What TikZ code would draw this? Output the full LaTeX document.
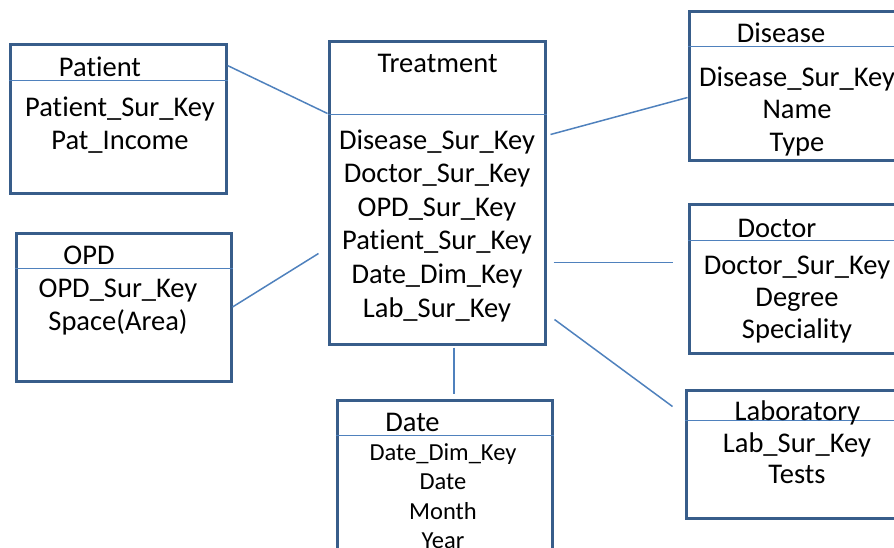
\documentclass[tikz,border=0pt]{standalone}
\usepackage{fontspec}
\setmainfont{Carlito}[Ligatures=NoCommon]
\usetikzlibrary{calc}
\definecolor{boxline}{HTML}{385D8A}
\definecolor{linkline}{HTML}{4F81BD}

\begin{document}
\begin{tikzpicture}[x=1pt,y=-1pt,
  entity/.style={draw=boxline, line width=3pt, fill=white, inner sep=0pt},
  divider/.style={draw=linkline, line width=1.5pt},
  link/.style={draw=linkline, line width=1.5pt},
  label/.style={anchor=base, inner sep=0pt, font=\fontsize{28.5}{32}\selectfont},
  small/.style={anchor=base, inner sep=0pt, font=\fontsize{24.5}{28}\selectfont}]
\useasboundingbox (0,0) rectangle (894,547);
\clip (0,0) rectangle (894,547);

% entity boxes
\node[entity, minimum width=216pt, minimum height=149pt] (patient)   at (118,118.5) {};
\node[entity, minimum width=215pt, minimum height=148pt] (opd)       at (123.5,307) {};
\node[entity, minimum width=216pt, minimum height=303pt] (treatment) at (437,192.5) {};
\node[entity, minimum width=216pt, minimum height=149pt] (disease)   at (797,85.5) {};
\node[entity, minimum width=216pt, minimum height=149pt] (doctor)    at (797,278.5) {};
\node[entity, minimum width=216pt, minimum height=128pt] (lab)       at (794,454) {};
\node[entity, minimum width=215pt, minimum height=200pt] (date)      at (444.5,500) {};

% title separators
\draw[divider] ([yshift=-38pt]patient.north west)   -- ([yshift=-38pt]patient.north east);
\draw[divider] ([yshift=-37pt]opd.north west)       -- ([yshift=-37pt]opd.north east);
\draw[divider] ([yshift=-75pt]treatment.north west) -- ([yshift=-75pt]treatment.north east);
\draw[divider] ([yshift=-37pt]disease.north west)   -- ([yshift=-37pt]disease.north east);
\draw[divider] ([yshift=-38pt]doctor.north west)    -- ([yshift=-38pt]doctor.north east);
\draw[divider] ([yshift=-32pt]lab.north west)       -- ([yshift=-32pt]lab.north east);
\draw[divider] ([yshift=-37pt]date.north west)      -- ([yshift=-37pt]date.north east);

% titles
\node[label] (patient-title)   at (100,76)    {Patient};
\node[label] (opd-title)       at (89,264)    {OPD};
\node[label] (treatment-title) at (437.5,72)  {Treatment};
\node[label] (disease-title)   at (781,42)    {Disease};
\node[label] (doctor-title)    at (777,237)   {Doctor};
\node[label] (lab-title)       at (797.5,420) {Laboratory};
\node[label] (date-title)      at (412.5,431) {Date};

% attributes
\foreach \t [count=\i] in {Patient\_Sur\_Key, Pat\_Income}
  \node[label] (patient-\i) at (120,{116+(\i-1)*33.5}) {\t};
\foreach \t [count=\i] in {OPD\_Sur\_Key, Space(Area)}
  \node[label] (opd-\i) at (118,{297+(\i-1)*33}) {\t};
\foreach \t [count=\i] in {Disease\_Sur\_Key, Doctor\_Sur\_Key, OPD\_Sur\_Key,
                           Patient\_Sur\_Key, Date\_Dim\_Key, Lab\_Sur\_Key}
  \node[label] (treatment-\i) at (437,{149+(\i-1)*33.6}) {\t};
\foreach \t [count=\i] in {Disease\_Sur\_Key, Name, Type}
  \node[label] (disease-\i) at (797,{86+(\i-1)*32.5}) {\t};
\foreach \t [count=\i] in {Doctor\_Sur\_Key, Degree, Speciality}
  \node[label] (doctor-\i) at (797,{274+(\i-1)*32.3}) {\t};
\foreach \t [count=\i] in {Lab\_Sur\_Key, Tests}
  \node[label] (lab-\i) at (797,{452+(\i-1)*31.5}) {\t};
\foreach \t [count=\i] in {Date\_Dim\_Key, Date, Month, Year}
  \node[small] (date-\i) at (443,{460+(\i-1)*29.5}) {\t};

% relationship lines
\draw[link] ([yshift=-23pt]patient.north east) -- ([yshift=-74pt]treatment.north west);
\coordinate (opd-end) at ([xshift=-9pt,yshift=-214pt]treatment.north west);
\draw[link] (opd.east) -- (opd-end);
\draw[link] ([xshift=4pt,yshift=-95pt]treatment.north east) -- ([yshift=-88pt]disease.north west);
\coordinate (doc-start) at ([xshift=7pt,yshift=-223pt]treatment.north east);
\coordinate (doc-end) at ([xshift=-15pt,yshift=-60pt]doctor.north west);
\draw[link] (doc-start) -- (doc-end);
\coordinate (lab-start) at ([xshift=8pt,yshift=-280pt]treatment.north east);
\coordinate (lab-end) at ([xshift=-12pt,yshift=-18pt]lab.north west);
\draw[link] (lab-start) -- (lab-end);
\coordinate (date-start) at ([xshift=17pt,yshift=-2pt]treatment.south);
\coordinate (date-end) at ([xshift=9.5pt,yshift=5pt]date.north);
\draw[link] (date-start) -- (date-end);
\end{tikzpicture}
\end{document}
